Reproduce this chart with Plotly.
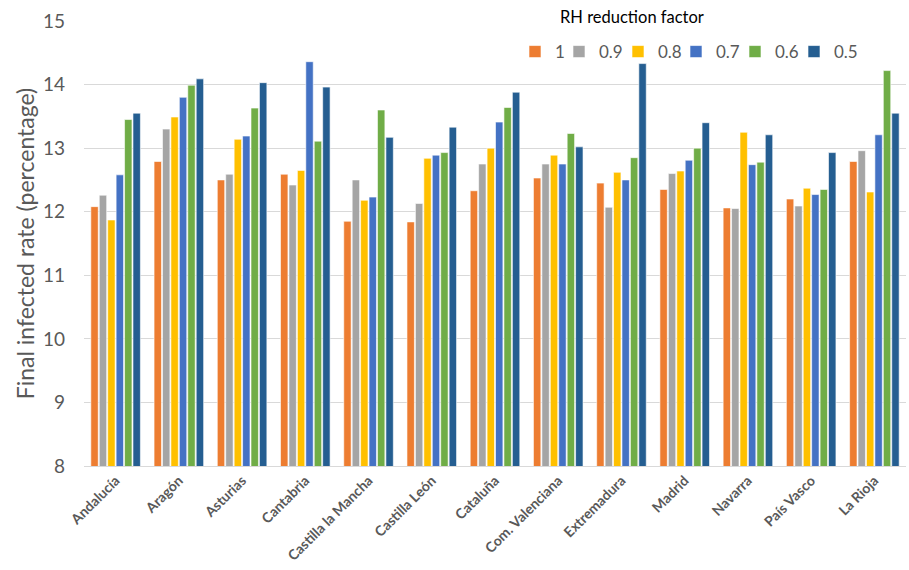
import plotly.graph_objects as go

regions = ["Andalucía", "Aragón", "Asturias", "Cantabria", "Castilla la Mancha",
           "Castilla León", "Cataluña", "Com. Valenciana", "Extremadura", "Madrid",
           "Navarra", "País Vasco", "La Rioja"]

series_names = ["1", "0.9", "0.8", "0.7", "0.6", "0.5"]

f_1_0 = [12.08, 12.79, 12.50, 12.59, 11.85, 11.84, 12.33, 12.53, 12.45, 12.35, 12.06, 12.20, 12.79]
f_0_9 = [12.26, 13.30, 12.59, 12.42, 12.50, 12.13, 12.75, 12.75, 12.07, 12.60, 12.05, 12.09, 12.96]
f_0_8 = [11.87, 13.49, 13.14, 12.65, 12.18, 12.84, 13.00, 12.89, 12.62, 12.64, 13.25, 12.37, 12.31]
f_0_7 = [12.58, 13.80, 13.19, 14.36, 12.23, 12.89, 13.41, 12.75, 12.50, 12.81, 12.74, 12.27, 13.21]
f_0_6 = [13.45, 13.99, 13.63, 13.11, 13.60, 12.93, 13.64, 13.23, 12.85, 13.00, 12.78, 12.35, 14.22]
f_0_5 = [13.55, 14.09, 14.03, 13.96, 13.17, 13.33, 13.88, 13.02, 14.33, 13.40, 13.21, 12.93, 13.55]

series_values = [f_1_0, f_0_9, f_0_8, f_0_7, f_0_6, f_0_5]
colors = ["#ED7D31", "#A5A5A5", "#FFC000", "#4472C4", "#70AD47", "#255E91"]

y_ticks = [8, 9, 10, 11, 12, 13, 14, 15]

FONT = "Lato"
W, H = 909, 570
ML, MR, MT, MB = 84, 3, 21, 104
PW, PH = W - ML - MR, H - MT - MB

# left edge (px) of each legend swatch, as in the reference
legend_swatch_px = [529, 573, 632, 690, 749, 808]


def px_x(p):
    return (p - ML) / PW


def px_y(p):
    return 1.0 - (p - MT) / PH


fig = go.Figure()
legend_ids = ["legend"] + [f"legend{i}" for i in range(2, len(series_names) + 1)]
for name, vals, col, lid in zip(series_names, series_values, colors, legend_ids):
    fig.add_trace(go.Bar(
        x=regions, y=vals, name=name, legend=lid,
        marker=dict(color=col, line=dict(color="white", width=0.6)),
    ))

legend_common = dict(
    orientation="h", xanchor="left", y=px_y(52), yanchor="middle",
    font=dict(size=17, color="#595959", family=FONT),
    itemwidth=30, bgcolor="rgba(0,0,0,0)",
)
layout_legends = {}
for lid, sx in zip(legend_ids, legend_swatch_px):
    layout_legends[lid] = dict(legend_common, x=px_x(sx - 14))

fig.update_layout(
    width=W, height=H,
    margin=dict(l=ML, r=MR, t=MT, b=MB, autoexpand=False),
    paper_bgcolor="white", plot_bgcolor="white",
    barmode="group", bargap=0.2, bargroupgap=0.12,
    font=dict(family=FONT, color="#595959"),
    showlegend=True,
    annotations=[dict(
        text="RH reduction factor", x=px_x(632), y=px_y(17), xref="paper", yref="paper",
        showarrow=False, font=dict(size=16.5, color="#000000", family=FONT),
        xanchor="center", yanchor="middle",
    )],
    **layout_legends,
)

fig.update_yaxes(
    range=[8, 15], tickvals=y_ticks, ticktext=[str(v) for v in y_ticks],
    showgrid=True, gridcolor="#D9D9D9", gridwidth=1,
    zeroline=False, showline=False, automargin=False,
    tickfont=dict(size=19, color="#595959", family=FONT),
    ticks="", ticklabelstandoff=18,
    title=dict(text="Final infected rate (percentage)",
               font=dict(size=23, color="#595959", family=FONT), standoff=1),
)
fig.update_xaxes(
    showline=True, linecolor="#D9D9D9", linewidth=1, automargin=False,
    tickangle=-45, ticks="",
    tickfont=dict(size=14, color="#595959", family=FONT, weight="bold"),
)

fig.write_html("out.html", post_script="document.body.style.margin='0px';",
               config={"displayModeBar": False})
